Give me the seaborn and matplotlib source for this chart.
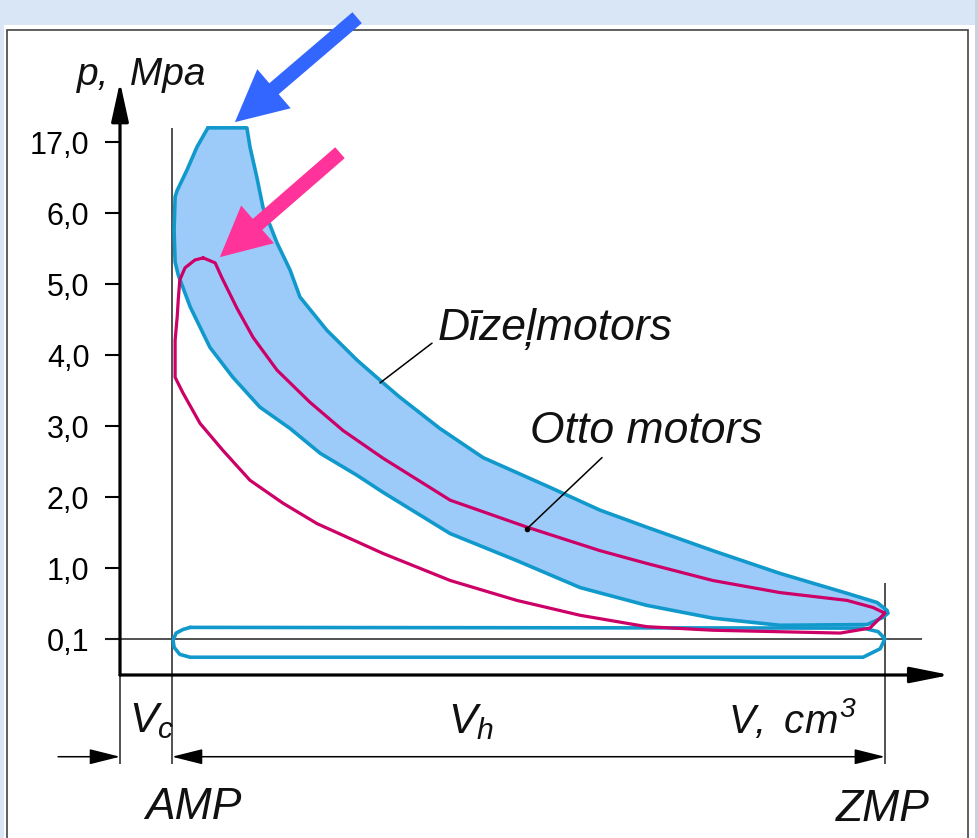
import numpy as np
import matplotlib
matplotlib.use("Agg")
import matplotlib.pyplot as plt
from matplotlib.patches import Rectangle
import seaborn as sns

# schematic pressure scale: level -> label (MPa)
p_levels = [0, 1, 2, 3, 4, 5, 6, 7]
p_labels = ["0,1", "1,0", "2,0", "3,0", "4,0", "5,0", "6,0", "17,0"]

# volume in units of Vc
V_AMP = 1.0
V_ZMP = 14.71

# Diesel cycle: combustion + expansion (left -> right)
diesel_exp_v = [1.69, 2.44, 2.50, 2.63, 2.75, 3.02, 3.27, 3.46, 3.98, 4.56, 5.06, 5.38,
                6.15, 6.98, 8.27, 9.23, 10.13, 11.40, 12.69, 13.98, 14.56, 14.75, 14.77]
diesel_exp_p = [7.20, 7.20, 6.93, 6.51, 6.08, 5.58, 5.20, 4.82, 4.35, 3.93, 3.61, 3.41,
                2.97, 2.56, 2.14, 1.82, 1.58, 1.25, 0.93, 0.65, 0.52, 0.41, 0.37]
# Diesel cycle: compression (right -> left)
diesel_comp_v = [14.67, 14.37, 12.69, 11.40, 10.13, 8.85, 7.63, 6.35, 5.06, 4.56, 3.85, 3.27,
                 2.69, 2.17, 1.73, 1.35, 1.12, 1.06, 1.04, 1.06, 1.10, 1.29, 1.48, 1.69]
diesel_comp_p = [0.31, 0.21, 0.20, 0.30, 0.48, 0.73, 1.11, 1.49, 2.07, 2.31, 2.62, 2.97,
                 3.27, 3.69, 4.11, 4.68, 5.13, 5.31, 5.76, 6.23, 6.32, 6.61, 6.93, 7.20]

# Otto cycle: expansion (left -> right)
otto_exp_v = [1.60, 1.83, 1.96, 2.25, 2.56, 3.02, 3.65, 4.29, 5.06, 6.35, 7.83, 9.23,
              10.13, 11.40, 12.69, 13.98, 14.48, 14.71]
otto_exp_p = [5.37, 5.30, 5.09, 4.66, 4.25, 3.79, 3.34, 2.94, 2.55, 1.96, 1.58, 1.25,
              1.07, 0.83, 0.66, 0.55, 0.45, 0.37]
# Otto cycle: compression (right -> left)
otto_comp_v = [14.42, 13.85, 11.40, 10.13, 8.85, 7.63, 6.35, 5.06, 3.79, 3.13, 2.50, 1.98,
               1.54, 1.21, 1.06, 1.06, 1.10, 1.12, 1.15, 1.25, 1.44, 1.60]
otto_comp_p = [0.16, 0.09, 0.13, 0.18, 0.34, 0.55, 0.83, 1.21, 1.63, 1.92, 2.24, 2.66,
               3.04, 3.47, 3.69, 4.21, 4.54, 4.78, 5.06, 5.23, 5.34, 5.37]

# gas exchange loop (intake / exhaust)
exch_v = [1.35, 14.29, 14.58, 14.71, 14.62, 14.29, 1.35, 1.15, 1.04, 1.02, 1.08, 1.21, 1.35]
exch_p = [0.17, 0.16, 0.11, 0.01, -0.13, -0.25, -0.25, -0.21, -0.11, -0.01, 0.09, 0.14, 0.17]

sns.set_theme(style="white")
plt.rcParams["font.family"] = ["Liberation Sans", "DejaVu Sans"]
plt.rcParams["mathtext.fontset"] = "custom"
plt.rcParams["mathtext.it"] = "Liberation Sans:italic"
plt.rcParams["mathtext.rm"] = "Liberation Sans:italic"

W, H = 979, 838
fig = plt.figure(figsize=(W / 100, H / 100), dpi=100, facecolor="#d9e6f5")

# white panel with dark frame
fig.patches.append(Rectangle((975 / W, 0), 4 / W, 1, transform=fig.transFigure,
                             facecolor="#c9d2de", edgecolor="none", zorder=-3))
fig.patches.append(Rectangle((4 / W, 0), 971 / W, 813 / H, transform=fig.transFigure,
                             facecolor="white", edgecolor="none", zorder=-2))
fig.patches.append(Rectangle((7 / W, -0.01), 961 / W, 808 / H + 0.01, transform=fig.transFigure,
                             facecolor="none", edgecolor="#444444", lw=1.2, zorder=-1))

ax = fig.add_axes([120 / W, (H - 675) / H, 830 / W, 593 / H])
ax.set_facecolor("none")
ax.set_xlim(0, 830 / 52)
ax.set_ylim(-0.5, 557 / 71)
for s in ax.spines.values():
    s.set_visible(False)

# axes with arrow heads
ax.annotate("", xy=(0, 557 / 71), xytext=(0, -0.5), annotation_clip=False,
            arrowprops=dict(arrowstyle="-|>,head_length=1.0,head_width=0.22", mutation_scale=24,
                            lw=2.3, color="black", shrinkA=0, shrinkB=0))
ax.annotate("", xy=(830 / 52, -0.5), xytext=(0, -0.5), annotation_clip=False,
            arrowprops=dict(arrowstyle="-|>,head_length=1.0,head_width=0.2", mutation_scale=24,
                            lw=2.3, color="black", shrinkA=0, shrinkB=0))

ax.set_xticks([])
ax.set_yticks(p_levels, p_labels)
ax.tick_params(axis="y", length=11, width=1.5, pad=11, labelsize=22, colors="black",
               direction="out", left=True)

# reference lines
ax.hlines(0, -0.29, 15.42, color="#222222", lw=1.1, zorder=1.5, clip_on=False)
ax.vlines(V_AMP, -1.75, 7.2, color="#222222", lw=1.1, zorder=1.5, clip_on=False)
ax.vlines(V_ZMP, -1.75, 0.79, color="#222222", lw=1.1, zorder=1.5, clip_on=False)
ax.vlines(0, -1.75, -0.5, color="#222222", lw=1.1, zorder=1.5, clip_on=False)

# Diesel area
dv = diesel_exp_v + diesel_comp_v
dp = diesel_exp_p + diesel_comp_p
ax.fill(dv, dp, color="#9ccbfa", zorder=1)
sns.lineplot(x=dv, y=dp, sort=False, estimator=None, color="#1199cc", lw=2.6, ax=ax, zorder=3,
             solid_joinstyle="round", solid_capstyle="round")

# Otto loop
ov = otto_exp_v + otto_comp_v
op = otto_exp_p + otto_comp_p
sns.lineplot(x=ov, y=op, sort=False, estimator=None, color="#cc0066", lw=2.3, ax=ax, zorder=4,
             solid_joinstyle="round", solid_capstyle="round")

# gas exchange
sns.lineplot(x=exch_v, y=exch_p, sort=False, estimator=None, color="#1199cc", lw=2.6, ax=ax,
             zorder=3, solid_joinstyle="round", solid_capstyle="round")
ax.set_xlabel("")
ax.set_ylabel("")

# dimension lines
dim_y = -1.65
ax.annotate("", xy=(0, dim_y), xytext=(-1.19, dim_y), annotation_clip=False,
            arrowprops=dict(arrowstyle="-|>,head_length=1.0,head_width=0.25", mutation_scale=19,
                            lw=1.1, color="black", shrinkA=0, shrinkB=0))
ax.annotate("", xy=(V_ZMP, dim_y), xytext=(V_AMP, dim_y), annotation_clip=False,
            arrowprops=dict(arrowstyle="<|-|>,head_length=1.0,head_width=0.25", mutation_scale=19,
                            lw=1.1, color="black", shrinkA=0, shrinkB=0))

# leader lines
ax.plot([6.0, 5.0], [4.17, 3.61], color="black", lw=1.1, zorder=5)
ax.plot([9.27, 7.83], [2.56, 1.56], color="black", lw=1.1, zorder=5)
ax.plot([7.83], [1.56], "o", color="black", ms=3, zorder=5)

# highlight arrows
ax.annotate("", xy=(2.21, 7.28), xytext=(4.56, 8.75), annotation_clip=False,
            arrowprops=dict(arrowstyle="simple,head_length=1.0,head_width=1.0,tail_width=0.28",
                            mutation_scale=37, color="#3366ff", lw=0, shrinkA=0, shrinkB=0))
ax.annotate("", xy=(1.92, 5.38), xytext=(4.23, 6.85), annotation_clip=False,
            arrowprops=dict(arrowstyle="simple,head_length=1.0,head_width=1.0,tail_width=0.29",
                            mutation_scale=36, color="#ff3399", lw=0, shrinkA=0, shrinkB=0))

# labels
it = dict(style="italic", color="#111111", clip_on=False)
ax.text(-0.83, 7.80, "p,  Mpa", fontsize=28, ha="left", va="baseline", **it)
ax.text(6.10, 4.21, "Dīzeļmotors", fontsize=32, ha="left", va="baseline", **it)
ax.text(7.88, 2.76, "Otto motors", fontsize=32, ha="left", va="baseline", **it)
ax.text(0.60, -1.30, r"$V_c$", fontsize=31, ha="center", va="baseline", **it)
ax.text(6.75, -1.32, r"$V_h$", fontsize=31, ha="center", va="baseline", **it)
ax.text(14.17, -1.32, r"$V,\ cm^3$", fontsize=29, ha="right", va="baseline", **it)
ax.text(1.42, -2.52, "AMP", fontsize=32, ha="center", va="baseline", **it)
ax.text(14.67, -2.55, "ZMP", fontsize=32, ha="center", va="baseline", **it)

fig.savefig("out.png", dpi=100, facecolor=fig.get_facecolor())
